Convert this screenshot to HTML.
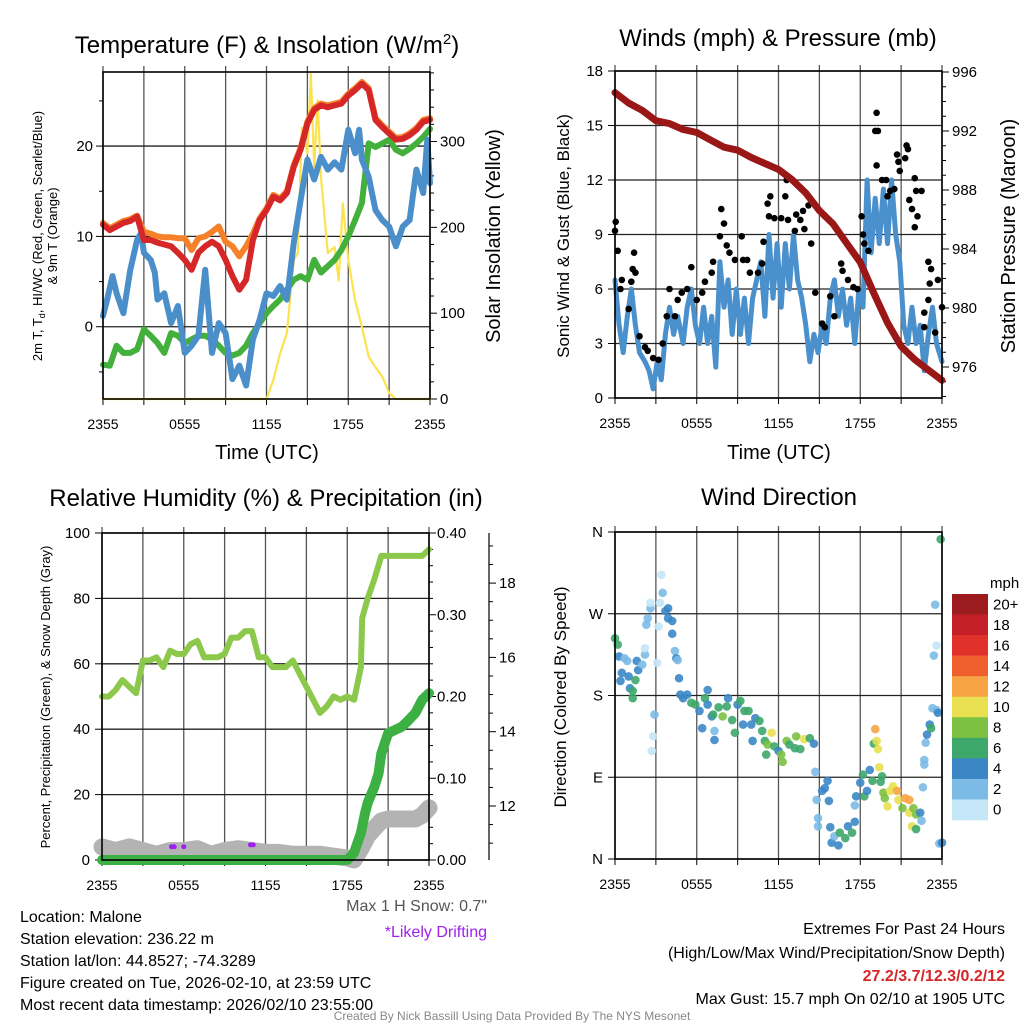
<!DOCTYPE html>
<html><head><meta charset="utf-8"><style>
html,body{margin:0;padding:0;background:#fff;}
svg{display:block;font-family:"Liberation Sans",Arial,sans-serif;}
</style></head><body>
<svg id="fig" width="1024" height="1024" viewBox="0 0 1024 1024" xmlns="http://www.w3.org/2000/svg">
<rect width="1024" height="1024" fill="#fff"/>
<g id="p1"></g>
<g id="p2"></g>
<g id="p3"></g>
<g id="p4"></g>
<g id="txt" font-size="16" fill="#000">
<text x="267" y="53" font-size="24" text-anchor="middle">Temperature (F) &amp; Insolation (W/m<tspan font-size="15" dy="-9">2</tspan><tspan dy="9">)</tspan></text>
<text x="778" y="46" font-size="24" text-anchor="middle">Winds (mph) &amp; Pressure (mb)</text>
<text x="266" y="506" font-size="24" text-anchor="middle">Relative Humidity (%) &amp; Precipitation (in)</text>
<text x="779" y="505" font-size="24" text-anchor="middle">Wind Direction</text>
<text x="267" y="459" font-size="20" text-anchor="middle">Time (UTC)</text>
<text x="779" y="459" font-size="20" text-anchor="middle">Time (UTC)</text>
<text transform="translate(42,236) rotate(-90)" font-size="13" text-anchor="middle">2m T, T<tspan font-size="9" dy="3">d</tspan><tspan dy="-3">, HI/WC (Red, Green, Scarlet/Blue)</tspan></text>
<text transform="translate(57,236) rotate(-90)" font-size="13" text-anchor="middle">&amp; 9m T (Orange)</text>
<text transform="translate(500,236) rotate(-90)" font-size="20" text-anchor="middle">Solar Insolation (Yellow)</text>
<text transform="translate(569,236) rotate(-90)" font-size="17" text-anchor="middle">Sonic Wind &amp; Gust (Blue, Black)</text>
<text transform="translate(1015,236) rotate(-90)" font-size="20" text-anchor="middle">Station Pressure (Maroon)</text>
<text transform="translate(50,697) rotate(-90)" font-size="13" text-anchor="middle">Percent, Precipitation (Green), &amp; Snow Depth (Gray)</text>
<text transform="translate(566,697) rotate(-90)" font-size="17" text-anchor="middle">Direction (Colored By Speed)</text>
<text x="487" y="911" text-anchor="end" fill="#555">Max 1 H Snow: 0.7"</text>
<text x="487" y="937" text-anchor="end" fill="#a020f0">*Likely Drifting</text>
<text x="20" y="922">Location: Malone</text>
<text x="20" y="944">Station elevation: 236.22 m</text>
<text x="20" y="966">Station lat/lon: 44.8527; -74.3289</text>
<text x="20" y="988">Figure created on Tue, 2026-02-10, at 23:59 UTC</text>
<text x="20" y="1010">Most recent data timestamp: 2026/02/10 23:55:00</text>
<text x="1005" y="934" text-anchor="end">Extremes For Past 24 Hours</text>
<text x="1005" y="958" text-anchor="end">(High/Low/Max Wind/Precipitation/Snow Depth)</text>
<text x="1005" y="981" text-anchor="end" fill="#d62728" font-weight="bold">27.2/3.7/12.3/0.2/12</text>
<text x="1005" y="1004" text-anchor="end">Max Gust: 15.7 mph On 02/10 at 1905 UTC</text>
<text x="512" y="1020" font-size="12" fill="#888" text-anchor="middle">Created By Nick Bassill Using Data Provided By The NYS Mesonet</text>
</g>
</svg>
<script>
// ---------- DATA ----------
const xTickLabels = ["2355","0555","1155","1755","2355"];
const hr = [0,0.5,1,1.5,2,2.5,3,3.5,4,4.5,5,5.5,6,6.5,7,7.5,8,8.5,9,9.5,10,10.5,11,11.5,12,12.5,13,13.5,14,14.5,15,15.5,16,16.5,17,17.5,18,18.5,19,19.5,20,20.5,21,21.5,22,22.5,23,23.5,24];
const tempRed = [11.3,10.7,11.1,11.5,11.7,12.2,9.6,9.6,9.3,9.1,8.9,8.2,7.4,6.3,8.2,8.9,9.4,8.9,7.4,5.6,4.1,5.2,9.6,11.8,12.9,14.4,14.0,14.8,17.7,19.6,22.5,24.0,24.5,24.3,24.5,24.7,25.6,26.2,26.9,26.2,22.9,22.1,21.4,20.7,20.8,21.2,21.8,22.7,22.9];
const temp9m = [11.5,10.9,11.3,11.7,11.9,12.3,10.5,10.3,10.0,9.9,9.9,9.8,9.8,8.5,9.8,10.0,10.5,11.1,9.4,8.9,7.8,8.9,10.3,12.0,13.1,14.6,14.2,15.0,17.9,19.8,22.7,24.2,24.7,24.5,24.7,24.9,25.8,26.4,27.1,26.4,23.1,22.3,21.6,20.9,21.0,21.4,22.0,22.9,23.1];
const dewGreen = [-4.2,-4.3,-2.1,-2.9,-2.9,-2.5,-0.3,-1.0,-1.8,-2.9,-0.7,-1.0,-1.8,-1.4,-1.0,-1.0,-1.4,-2.1,-2.9,-3.2,-2.9,-2.1,-0.7,0.4,1.5,2.3,3.0,4.1,5.2,5.6,5.2,7.4,6.0,6.7,7.4,8.5,10.0,11.8,13.7,20.3,19.9,20.3,20.7,19.6,19.2,19.7,20.3,21.0,21.9];
const wcHr = [0,0.3,0.7,1,1.5,2,2.5,2.8,3,3.5,3.8,4,4.5,5,5.5,6,6.5,7,7.5,8,8.5,9,9.5,10,10.5,11,11.5,12,12.5,13,13.5,14,14.5,15,15.5,16,16.5,17,17.5,18,18.5,18.8,19,19.5,20,20.5,21,21.5,22,22.5,23,23.5,23.8,24];
const wcBlue = [1.2,3.0,5.6,3.7,1.5,6.3,9.6,10.4,8.2,7.4,6.0,3.0,3.7,0.4,2.3,-2.9,-2.1,-1.0,6.3,-2.9,0.4,-0.7,-5.8,-4.3,-6.5,-1.4,0.8,3.7,3.4,4.5,3.0,9.3,14.0,18.5,16.3,18.8,17.4,18.2,17.4,21.8,19.2,21.8,18.5,16.6,12.9,11.8,11.1,8.9,11.1,11.8,17.4,14.8,20.7,15.9];
const solHr = [0,12,12.5,13,13.5,14,14.3,14.6,15,15.25,15.5,15.75,16,16.5,17,17.3,17.6,18,18.5,19,19.5,20,20.5,21,21.5,24];
const solar = [0,0,22,53,77,162,170,316,286,379,270,348,258,170,177,138,228,162,115,84,49,37,26,7,0,0];
const tempTicks=[-5,0,5,10,15,20,25], tempLabels=["0","10","20"], tempLabelVals=[0,10,20];
const solTicks=[0,100,200,300], solLabels=["0","100","200","300"];

const presHr=[0,1,2,3,4,5,6,7,8,9,10,11,12,13,14,15,16,17,18,19,20,21,22,23,24];
const pressure=[994.6,993.9,993.4,992.7,992.5,992.1,991.9,991.4,990.9,990.7,990.2,989.8,989.4,988.7,987.8,986.6,985.7,984.4,983.1,981.0,979.0,977.4,976.5,975.8,975.1];
const windHr=[0,0.3,0.6,0.9,1.2,1.5,1.8,2.2,2.5,2.8,3.1,3.4,3.7,4,4.3,4.6,5,5.3,5.6,5.9,6.2,6.5,6.8,7.1,7.4,7.7,8,8.3,8.6,8.9,9.2,9.5,9.8,10.1,10.4,10.7,11,11.3,11.6,11.9,12.2,12.5,12.8,13.1,13.4,13.7,14,14.3,14.6,14.9,15.2,15.5,15.8,16.1,16.4,16.7,17,17.3,17.6,17.9,18.2,18.5,18.8,19.1,19.4,19.7,20,20.3,20.6,20.9,21.2,21.5,21.8,22.1,22.4,22.7,23,23.3,23.6,24];
const windSpd=[6.5,4,2.5,4.5,6,4,2.5,2,1.5,0.5,2,1,3.5,5,3.5,4.5,3,5,6,4,3,5,3,4.5,1.7,7.5,5,6.5,3.5,6,3.5,5.5,3,5.5,6.5,7.5,4.5,9,5.5,8.5,5,8.5,6,9,6.5,5.5,4,2,3.5,2.5,4,3,5.5,6.5,4.5,6,4,5.5,3,6,5,12,8,11,8.5,11.5,8.5,12,9,7.5,4,3,5,3,4,1.5,3.5,5,3,2];
const gustHr=[0,0.05,0.2,0.4,0.5,1.0,1.2,1.4,1.3,1.5,1.8,2.2,2.4,2.8,3.2,3.5,3.8,4.0,4.4,4.6,4.9,5.3,5.6,6.0,6.4,6.6,7.1,7.2,7.7,7.8,8.0,8.2,8.4,8.8,9.3,9.4,9.7,9.9,10.5,10.8,10.9,11.2,11.4,11.3,11.7,12.2,12.5,12.6,12.7,13.2,13.3,13.6,13.8,13.9,14.2,14.4,14.7,15.2,15.4,15.8,16.1,16.6,16.7,17.1,17.5,17.8,18.1,18.2,18.3,18.6,19.1,19.2,19.3,19.2,19.6,19.9,20.0,20.2,20.5,20.7,20.8,20.9,21.3,21.4,21.5,21.6,21.8,22.0,22.1,22.2,22.0,22.5,23.0,23.2,23.0,22.7,23.1,22.7,23.7,24.0,23.5];
const gustSpd=[9.2,9.7,8.1,6.0,6.5,4.9,6.4,8.0,7.1,6.9,3.4,2.8,2.6,2.2,2.1,3.0,4.5,6.0,4.5,5.4,5.8,6.0,7.2,5.4,5.8,6.4,6.9,7.5,8.9,10.4,9.6,8.4,8.0,7.6,8.9,7.6,7.6,6.9,6.9,7.4,8.6,10.7,11.1,10.0,9.9,9.9,11.1,12.0,9.8,9.2,10.1,9.8,10.3,9.3,10.6,8.5,5.8,4.1,3.9,5.6,4.5,7.4,7.0,6.5,6.1,6.0,10.0,9.0,8.5,8.1,14.7,15.7,14.7,12.8,12.0,12.0,11.1,11.4,11.5,13.4,13.0,12.5,13.2,13.9,13.7,10.9,10.4,12.1,11.4,10.0,9.4,11.4,7.5,7.1,5.4,4.7,6.3,3.9,6.5,5.0,3.6];
const windTicks=[0,3,6,9,12,15,18];
const presTicks=[976,980,984,988,992,996];

const rhHr=[0,0.5,1,1.5,2,2.5,3,3.5,4,4.5,5,5.5,6,6.5,7,7.5,8,8.5,9,9.5,10,10.5,11,11.5,12,12.5,13,13.5,14,14.5,15,15.5,16,16.5,17,17.5,18,18.5,19,19.1,19.5,20,20.5,21,22,23,23.5,24];
const rh=[50,50,52,55,53,51,61,61,62,59,64,63,63,66,67,62,62,62,63,68,68,70,70,62,62,59,59,59,61,57,53,49,45,47,50,49,50,49,59,74,80,86,93,93,93,93,93,95];
const pcpHr=[0,17.5,18,18.5,19,19.3,19.5,20,20.3,20.5,21,21.5,22,22.5,23,23.5,24];
const precip=[0,0,0,0.009,0.033,0.057,0.07,0.09,0.106,0.13,0.155,0.159,0.163,0.171,0.18,0.196,0.204];
const snowHr=[0,1,2,3,4,5,6,7,8,9,10,11,12,13,14,15,16,17,18,18.5,19,19.5,20,20.5,21,22,23,23.5,24];
const snow=[10.9,10.8,10.9,10.8,10.7,10.8,10.8,10.85,10.7,10.8,10.85,10.8,10.75,10.75,10.7,10.7,10.7,10.65,10.6,10.55,10.85,11.2,11.4,11.6,11.65,11.65,11.65,11.75,11.95];
const driftHr=[5.1,5.3,6.0,10.9,11.1];
const driftVal=[10.85,10.85,10.85,10.9,10.9];
const rhTicks=[0,20,40,60,80,100];
const pcpTicks=["0.00","0.10","0.20","0.30","0.40"];
const snowTicks=[12,14,16,18];

const dirHr=[0.0,0.2,0.3,0.7,0.9,0.5,0.4,1.0,1.1,1.3,1.3,1.5,1.6,1.7,2.0,2.2,2.2,2.3,2.4,2.6,2.6,2.9,2.8,2.7,3.1,3.2,3.3,3.4,3.5,3.7,3.9,3.9,4.2,4.2,4.4,4.5,4.6,4.7,4.8,5.0,5.3,5.6,5.9,6.2,6.4,6.6,6.8,6.8,7.1,7.2,7.3,7.3,7.6,7.9,8.2,8.3,8.6,8.8,9.0,9.2,9.4,9.5,9.8,10.0,10.1,10.3,10.6,10.8,11.0,11.1,11.2,11.5,11.7,12.0,12.2,12.3,12.6,12.8,13.2,13.3,13.6,13.9,14.3,14.6,14.7,14.8,14.9,14.9,15.2,15.4,15.6,15.7,15.8,15.9,16.1,16.4,16.5,16.9,17.1,17.4,17.6,17.6,17.7,18.0,18.2,18.3,18.5,18.7,18.9,19.0,19.1,19.2,19.3,19.4,19.5,19.6,19.7,19.8,20.0,20.2,20.4,20.7,20.8,21.1,21.3,21.6,21.6,21.8,21.9,22.1,22.1,22.4,22.5,22.6,22.7,22.7,22.8,22.9,23.1,23.2,23.3,23.5,23.4,23.6,23.6,23.7,23.8,24.0,23.9];
const dirDeg=[243,236,223,221,218,205,196,201,188,185,177,197,218,208,214,225,232,258,265,276,282,159,135,119,216,256,282,313,293,273,276,265,262,248,229,221,219,199,181,177,181,172,170,163,144,177,186,170,157,159,141,131,167,157,168,177,153,139,170,174,148,163,163,148,130,155,152,141,130,115,126,139,124,119,115,107,130,126,122,135,121,132,133,127,96,65,45,36,75,78,86,64,35,18,25,15,29,23,36,29,41,59,69,84,93,69,75,98,86,127,143,130,121,101,85,91,73,67,58,75,80,75,65,56,67,65,51,36,56,49,33,51,42,79,104,109,128,137,148,144,166,280,224,235,164,161,17,18,352];
const dirSpd=[7,7,5,3,3,5,5,5,5,7,7,7,5,5,3,3,1,3,3,3,1,3,1,1,1,1,1,1,3,5,5,5,5,5,3,5,3,5,5,5,5,7,7,5,5,7,5,5,5,7,3,5,7,9,7,5,7,7,5,7,5,7,7,5,5,5,7,7,7,7,9,11,7,5,9,9,9,7,7,9,7,11,7,5,3,3,3,3,5,5,5,5,5,5,3,5,7,7,5,7,5,3,5,5,7,7,5,5,7,7,13,11,11,11,7,7,9,9,11,11,11,13,11,9,13,13,11,11,9,9,7,5,3,3,3,3,3,5,5,7,3,3,3,1,3,5,3,5,7];
const dirTicks=["N","E","S","W","N"];
const cbLabels=["20+","18","16","14","12","10","8","6","4","2","0"];
const cbColors=["#9b1b1e","#c41e26","#e0322b","#ef5f2e","#f7a445","#e8e050","#7cc142","#3ea76a","#3b87c5","#7bbbe5","#c4e6f6"];

// ---------- HELPERS ----------
const NS="http://www.w3.org/2000/svg";
function mk(parent,tag,attrs){const e=document.createElementNS(NS,tag);for(const k in attrs)e.setAttribute(k,attrs[k]);parent.appendChild(e);return e;}
function lin(d0,d1,r0,r1){return v=>r0+(v-d0)/(d1-d0)*(r1-r0);}
function pathD(xs,ys,fx,fy){return xs.map((x,i)=>(i?'L':'M')+fx(x).toFixed(1)+','+fy(ys[i]).toFixed(1)).join('');}
function frame(g,L,T,R,B,fx,nameP){
  for(let h=0;h<=24;h+=3){const gl=mk(g,'line',{x1:fx(h),x2:fx(h),y1:T-6,y2:B,stroke:'#555','stroke-width':1.3});
    
    const tk=mk(g,'line',{x1:fx(h),x2:fx(h),y1:B,y2:B+6,stroke:'#000','stroke-width':1});
    }
  xTickLabels.forEach((t,i)=>{const tx=mk(g,'text',{x:fx(i*6),y:B+30,'font-size':14,'text-anchor':'middle'});tx.textContent=t;
    });
}
function hgrid(g,L,R,y,nameP){const l=mk(g,'line',{x1:L,x2:R,y1:y,y2:y,stroke:'#222','stroke-width':1.3});
  }
function border(g,L,T,R,B,nameP){const r=mk(g,'rect',{x:L,y:T,width:R-L,height:B-T,fill:'none',stroke:'#000','stroke-width':1.6});
  }
function line(g,d,color,w,name){const p=mk(g,'path',{d:d,fill:'none',stroke:color,'stroke-width':w,'stroke-linejoin':'round','stroke-linecap':'round'});
  return p;}
function label(g,x,y,t,anchor,name,size){const e=mk(g,'text',{x:x,y:y,'font-size':size||14,'text-anchor':anchor});e.textContent=t;
  return e;}
function tick(g,x1,y1,x2,y2,name){const t=mk(g,'line',{x1,y1,x2,y2,stroke:'#000','stroke-width':1});
  }

// ---------- PANEL 1 ----------
(function(){
  const g=document.getElementById('p1');const L=103,R=430,T=72,B=399;
  const fx=lin(0,24,L,R), fy=lin(-8,28.2,B,T), fs=lin(0,381,B,T);
  frame(g,L,T,R,B,fx,'temp');
  tempLabelVals.forEach(v=>hgrid(g,L,R,fy(v),'temp'));
  tempTicks.forEach(v=>tick(g,L-(v%10===0?7:4),fy(v),L,fy(v),'temp-ytick'));
  tempLabelVals.forEach((v,i)=>label(g,L-10,fy(v)+5,tempLabels[i],'end','temp-ytick-label',15));
  for(let v=0;v<=380;v+=20)tick(g,R,fs(v),R+(v%100===0?7:4),fs(v),'insolation-ytick');
  solTicks.forEach((v,i)=>label(g,R+10,fs(v)+5,solLabels[i],'start','insolation-ytick-label',15));
  line(g,pathD(solHr,solar,fx,fs),'#fde250',2.2,'insolation-line');
  line(g,pathD(hr,dewGreen,fx,fy),'#43b03c',6,'dewpoint-line');
  line(g,pathD(wcHr,wcBlue,fx,fy),'#4a8fc9',6,'windchill-line');
  line(g,pathD(hr,temp9m,fx,fy),'#f5822a',6,'temp-9m-line');
  line(g,pathD(hr,tempRed,fx,fy),'#d62728',6,'temp-2m-line');
  border(g,L,T,R,B,'temp');
})();

// ---------- PANEL 2 ----------
(function(){
  const g=document.getElementById('p2');const L=615,R=942,T=71,B=398;
  const fx=lin(0,24,L,R), fy=lin(0,18,B,T), fp=lin(976,996,367,72);
  frame(g,L,T,R,B,fx,'winds');
  windTicks.forEach(v=>{hgrid(g,L,R,fy(v),'winds');tick(g,L-7,fy(v),L,fy(v),'wind-ytick');label(g,L-12,fy(v)+5,String(v),'end','wind-ytick-label',15);});
  for(let v=974;v<=996;v++)tick(g,R,fp(v),R+(v%4===0?7:4),fp(v),'pressure-ytick');
  presTicks.forEach(v=>label(g,R+10,fp(v)+5,String(v),'start','pressure-ytick-label',15));
  line(g,pathD(windHr,windSpd,fx,fy),'#4a90cc',5,'sonic-wind-line');
  gustHr.forEach((h,i)=>{const c=mk(g,'circle',{cx:fx(h),cy:fy(gustSpd[i]),r:3.3,fill:'#000'});
    });
  line(g,pathD(presHr,pressure,fx,fp),'#9a1717',7,'pressure-line');
  border(g,L,T,R,B,'winds');
})();

// ---------- PANEL 3 ----------
(function(){
  const g=document.getElementById('p3');const L=102,R=429,T=533,B=860;
  const fx=lin(0,24,L,R), fy=lin(0,100,B,T), fpc=lin(0,0.4,B,T), fsn=lin(12,14,806,731.7);
  frame(g,L,T,R,B,fx,'rh');
  rhTicks.forEach(v=>{hgrid(g,L,R,fy(v),'rh');tick(g,L-7,fy(v),L,fy(v),'rh-ytick');label(g,L-12,fy(v)+5,String(v),'end','rh-ytick-label',15);});
  for(let v=0;v<=0.401;v+=0.02)tick(g,R,fpc(v),R+(Math.round(v*100)%10===0?7:4),fpc(v),'precip-ytick');
  pcpTicks.forEach(t=>label(g,R+8,fpc(+t)+5,t,'start','precip-ytick-label',15));
  const ax=mk(g,'line',{x1:489,x2:489,y1:T,y2:B,stroke:'#000','stroke-width':1.2});
  
  for(let v=11;v<=19;v+=0.5)tick(g,489,fsn(v),489+(v%2===0?7:4),fsn(v),'snow-ytick');
  snowTicks.forEach(v=>label(g,499,fsn(v)+5,String(v),'start','snow-ytick-label',15));
  line(g,pathD(snowHr,snow,fx,fsn),'#b3b3b3',17,'snow-depth-line');
  driftHr.forEach((h,i)=>{const c=mk(g,'circle',{cx:fx(h),cy:fsn(driftVal[i])-2,r:2.5,fill:'#a020f0'});
    });
  line(g,pathD(rhHr,rh,fx,fy),'#8cc84b',6,'rh-line');
  line(g,pathD(pcpHr,precip,fx,fpc),'#3cb043',10,'precip-line');
  border(g,L,T,R,B,'rh');
})();

// ---------- PANEL 4 ----------
(function(){
  const g=document.getElementById('p4');const L=615,R=942,T=532,B=859;
  const fx=lin(0,24,L,R), fy=lin(0,360,B,T);
  frame(g,L,T,R,B,fx,'wdir');
  dirTicks.forEach((t,i)=>{const y=fy(i*90);hgrid(g,L,R,y,'wdir');tick(g,L-7,y,L,y,'wdir-ytick');label(g,L-12,y+5,t,'end','wdir-ytick-label',15);});
  function col(s){const k=Math.min(10,Math.floor(s/2));return cbColors[10-k];}
  dirHr.forEach((h,i)=>{const c=mk(g,'circle',{cx:fx(h),cy:fy(dirDeg[i]),r:4.3,fill:col(dirSpd[i]),'fill-opacity':0.9});
    });
  border(g,L,T,R,B,'wdir');
  const cb=mk(g,'g',{});
  const h=226/cbColors.length;
  cbColors.forEach((c,i)=>{const r=mk(cb,'rect',{x:952,y:594+i*h,width:36,height:h+0.3,fill:c});
    
    label(cb,993,594+i*h+h/2+5,cbLabels[i],'start','colorbar-label',15);});
  label(cb,990,588,'mph','start','colorbar-title',15);
})();
</script>
</body></html>
